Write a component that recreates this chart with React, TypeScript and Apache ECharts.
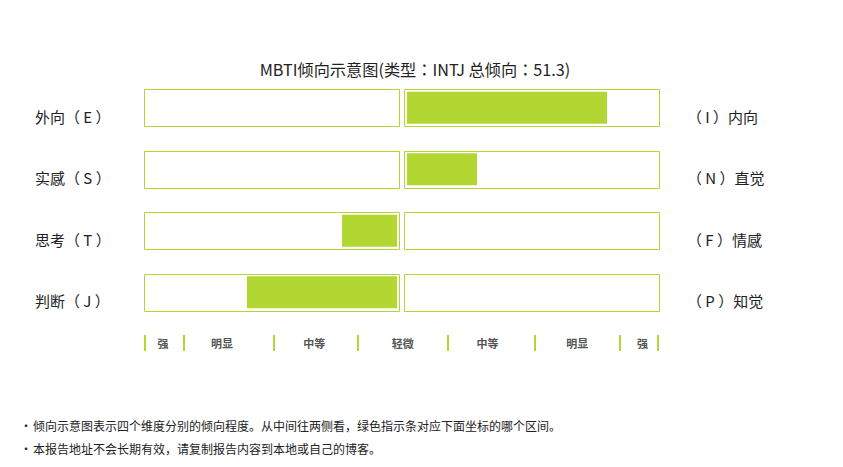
import React, { useEffect, useRef } from "react";
import * as echarts from "echarts";

const titleText = "MBTI倾向示意图(类型：INTJ 总倾向：51.3)";
const leftLabels = ["外向（ E ）", "实感（ S ）", "思考（ T ）", "判断（ J ）"];
const rightLabels = ["（ I ）内向", "（ N ）直觉", "（ F ）情感", "（ P ）知觉"];
const leftValues = [0, 0, 22, 60];
const rightValues = [80, 28, 0, 0];
const scaleBounds = [-100, -85, -50, -17, 18, 52, 85, 100];
const scaleLabelPos = [-93, -70, -34, 0.5, 33.5, 68.5, 94];
const scaleLabels = ["强", "明显", "中等", "轻微", "中等", "明显", "强"];
const notes = [
  "倾向示意图表示四个维度分别的倾向程度。从中间往两侧看，绿色指示条对应下面坐标的哪个区间。",
  "本报告地址不会长期有效，请复制报告内容到本地或自己的博客。",
];

const GREEN = "#b2d632";
const TEXT = "#222";
const FONT = "'Noto Sans CJK SC', 'Noto Sans', sans-serif";
const FONT_T = "'Noto Sans CJK TC', 'Noto Sans', sans-serif";

export default function App() {
  const ref = useRef<HTMLDivElement>(null);
  useEffect(() => {
    document.body.style.margin = "0";
    if (!ref.current) return;
    const chart = echarts.init(ref.current, null, { renderer: "svg" });

    const boxRender = (params: any, api: any) => {
      const cs = params.coordSys;
      const c = api.coord([0, api.value(1)]);
      const y = Math.round(c[1] - 18.5) + 0.5;
      return {
        type: "rect",
        shape: { x: cs.x - 2.5, y, width: cs.width + 5, height: 37 },
        style: { fill: "#fff", stroke: GREEN, lineWidth: 1 },
        z2: 0,
      };
    };

    const gridTop = 77;
    const gridH = 246;
    const rowLabel = {
      fontSize: 15,
      color: TEXT,
      fontFamily: FONT_T,
      verticalAlign: "top",
      padding: [1, 0, 0, 0],
    };

    chart.setOption({
      animation: false,
      title: {
        text: titleText,
        left: 410,
        top: 56,
        textAlign: "center",
        textStyle: { fontSize: 16.2, fontWeight: "normal", color: TEXT, fontFamily: FONT_T },
      },
      grid: [
        { left: 147, top: gridTop, width: 250, height: gridH },
        { left: 407, top: gridTop, width: 250, height: gridH },
        { left: 145, top: 336, width: 513, height: 15 },
      ],
      xAxis: [
        { gridIndex: 0, type: "value", min: 0, max: 100, inverse: true, show: false },
        { gridIndex: 1, type: "value", min: 0, max: 100, show: false },
        {
          gridIndex: 2,
          type: "value",
          min: -100,
          max: 100,
          position: "bottom",
          axisLine: { show: false },
          splitLine: { show: false },
          axisTick: {
            show: true,
            inside: true,
            length: 16,
            customValues: scaleBounds,
            lineStyle: { color: GREEN, width: 2 },
          },
          axisLabel: {
            show: true,
            inside: true,
            margin: 3,
            customValues: scaleLabelPos,
            fontSize: 11,
            fontWeight: "bold",
            color: "#555",
            fontFamily: FONT,
            formatter: (v: number) => {
              const i = scaleLabelPos.findIndex((m) => Math.abs(m - v) < 1e-6);
              return i >= 0 ? scaleLabels[i] : "";
            },
          },
        },
      ],
      yAxis: [
        {
          gridIndex: 0,
          type: "category",
          data: leftLabels,
          inverse: true,
          axisLine: { show: false },
          axisTick: { show: false },
          axisLabel: { ...rowLabel, align: "left", margin: 112 },
        },
        {
          gridIndex: 1,
          type: "category",
          data: rightLabels,
          inverse: true,
          position: "right",
          axisLine: { show: false },
          axisTick: { show: false },
          axisLabel: { ...rowLabel, align: "left", margin: 30 },
        },
        { gridIndex: 2, type: "value", show: false },
      ],
      series: [
        {
          type: "custom",
          xAxisIndex: 0,
          yAxisIndex: 0,
          renderItem: boxRender,
          data: leftLabels.map((l, i) => [100, i]),
          z: 1,
          silent: true,
        },
        {
          type: "custom",
          xAxisIndex: 1,
          yAxisIndex: 1,
          renderItem: boxRender,
          data: rightLabels.map((l, i) => [100, i]),
          z: 1,
          silent: true,
        },
        {
          type: "bar",
          xAxisIndex: 0,
          yAxisIndex: 0,
          barWidth: 32,
          data: leftValues.map((v) => (v > 0 ? v : null)),
          itemStyle: { color: GREEN },
          z: 2,
          silent: true,
        },
        {
          type: "bar",
          xAxisIndex: 1,
          yAxisIndex: 1,
          barWidth: 32,
          data: rightValues.map((v) => (v > 0 ? v : null)),
          itemStyle: { color: GREEN },
          z: 2,
          silent: true,
        },
      ],
      graphic: notes.flatMap((t, i) => [
        {
          type: "text",
          x: 20,
          y: 425 + i * 23,
          style: { text: "•", fontSize: 12, fill: TEXT, verticalAlign: "middle", fontFamily: FONT },
        },
        {
          type: "text",
          x: 33,
          y: 425 + i * 23,
          style: { text: t, fontSize: 12, fill: TEXT, verticalAlign: "middle", fontFamily: FONT },
        },
      ]),
    });
    return () => chart.dispose();
  }, []);
  return <div ref={ref} style={{ width: 843, height: 467 }} />;
}
